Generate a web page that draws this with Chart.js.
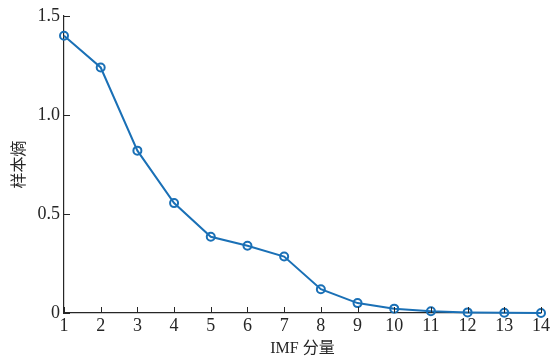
<!DOCTYPE html>
<html>
<head>
<meta charset="utf-8">
<script src="https://cdn.jsdelivr.net/npm/chart.js@4"></script>
<style>
  html, body { margin: 0; padding: 0; background: #fff; }
  #wrap { width: 552px; height: 358px; }
</style>
</head>
<body>
<div id="wrap"><canvas id="myChart"></canvas></div>
<script>
// IMF component index and sample entropy values
const imfIndex = [1, 2, 3, 4, 5, 6, 7, 8, 9, 10, 11, 12, 13, 14];
const sampleEntropy = [1.40, 1.24, 0.82, 0.555, 0.385, 0.34, 0.285, 0.12, 0.05, 0.022, 0.009, 0.003, 0.001, 0.0];
const yTicks = [0, 0.5, 1.0, 1.5];

const lineColor = '#1a70b6';
const axisColor = '#262626';
const serif = "'Liberation Serif'";
const cjk = "'Noto Sans CJK SC'";

// ticks pointing into the plot area, like the original figure
const inwardTicks = {
    id: 'inwardTicks',
    afterDraw(chart) {
        const { ctx, chartArea, scales } = chart;
        ctx.save();
        ctx.strokeStyle = axisColor;
        ctx.lineWidth = 1;
        ctx.beginPath();
        imfIndex.forEach(v => {
            const x = Math.round(scales.x.getPixelForValue(v)) + 0.5;
            ctx.moveTo(x, chartArea.bottom);
            ctx.lineTo(x, chartArea.bottom - 6);
        });
        yTicks.forEach(v => {
            const y = Math.round(scales.y.getPixelForValue(v)) + 0.5;
            ctx.moveTo(chartArea.left, y);
            ctx.lineTo(chartArea.left + 6, y);
        });
        ctx.stroke();
        ctx.restore();
    }
};

function draw() {
    new Chart(document.getElementById('myChart'), {
        type: 'line',
        data: {
            labels: imfIndex,
            datasets: [{
                data: imfIndex.map((x, i) => ({ x: x, y: sampleEntropy[i] })),
                borderColor: lineColor,
                borderWidth: 2,
                pointRadius: 4,
                pointBorderWidth: 2,
                pointBorderColor: lineColor,
                pointBackgroundColor: 'rgba(0,0,0,0)',
                tension: 0,
                clip: false
            }]
        },
        options: {
            responsive: true,
            maintainAspectRatio: false,
            animation: false,
            layout: { padding: { top: 16, right: 9, left: 0, bottom: 0 } },
            plugins: {
                legend: { display: false },
                tooltip: { enabled: false }
            },
            scales: {
                x: {
                    type: 'linear',
                    min: 1,
                    max: 14,
                    ticks: {
                        stepSize: 1,
                        color: axisColor,
                        font: { family: serif, size: 18 },
                        padding: 2
                    },
                    grid: { display: true, drawOnChartArea: false, drawTicks: false },
                    border: { display: true, color: axisColor, width: 1.2 },
                    title: {
                        display: true,
                        text: 'IMF 分量',
                        color: axisColor,
                        font: { family: serif + ', ' + cjk, size: 16 },
                        padding: { top: 0, bottom: 0 }
                    },
                    afterFit(scale) { scale.height = 45; }
                },
                y: {
                    min: 0,
                    max: 1.5,
                    afterBuildTicks(scale) { scale.ticks = yTicks.map(v => ({ value: v })); },
                    ticks: {
                        color: axisColor,
                        font: { family: serif, size: 18 },
                        padding: 4,
                        callback: v => v === 0 ? '0' : v.toFixed(1)
                    },
                    grid: { display: true, drawOnChartArea: false, drawTicks: false },
                    border: { display: true, color: axisColor, width: 1.2 },
                    title: {
                        display: true,
                        text: '样本熵',
                        color: axisColor,
                        font: { family: cjk, size: 16 },
                        padding: { top: 8, bottom: 4 }
                    },
                    afterFit(scale) { scale.width = 64; }
                }
            }
        },
        plugins: [inwardTicks]
    });
}

Promise.all([
    document.fonts.load("18px 'Liberation Serif'"),
    document.fonts.load("16px 'Noto Sans CJK SC'", '样本熵分量')
]).then(draw, draw);
</script>
</body>
</html>
